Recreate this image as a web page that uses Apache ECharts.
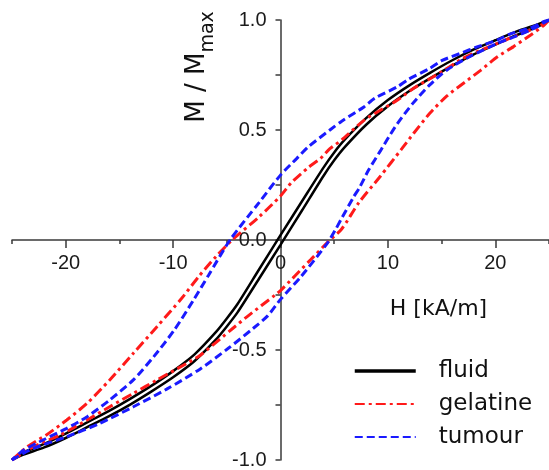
<!DOCTYPE html>
<html>
<head>
<meta charset="utf-8">
<script src="https://cdn.jsdelivr.net/npm/echarts@6/dist/echarts.min.js"></script>
<style>
html,body{margin:0;padding:0;background:#fff;}
#chart{width:549px;height:470px;}
</style>
</head>
<body>
<div id="chart"></div>
<script>
// ---- data (H in kA/m, M / Mmax) ----
const seriesNames = ['fluid', 'gelatine', 'tumour'];
const xLabelValues = [-20, -10, 0, 10, 20];

const fluidDown = [[25,1.0],[24,0.981],[22,0.948],[20,0.908],[18,0.866],[16,0.817],[14,0.762],[12,0.703],[10,0.636],[8,0.555],[6,0.457],[5,0.398],[4,0.329],[2,0.176],[0,0.022],[-2,-0.134],[-4,-0.291],[-5,-0.357],[-6,-0.418],[-8,-0.52],[-10,-0.596],[-12,-0.662],[-14,-0.722],[-16,-0.778],[-18,-0.829],[-20,-0.88],[-22,-0.927],[-24,-0.967],[-25,-1.0]];
const fluidUp = [[-25,-1.0],[-24,-0.977],[-22,-0.943],[-20,-0.9],[-18,-0.851],[-16,-0.802],[-14,-0.748],[-12,-0.688],[-10,-0.624],[-8,-0.55],[-6,-0.452],[-5,-0.393],[-4,-0.329],[-2,-0.176],[0,-0.022],[2,0.134],[4,0.291],[5,0.362],[6,0.423],[8,0.525],[10,0.608],[12,0.677],[14,0.737],[16,0.793],[18,0.844],[20,0.888],[22,0.932],[24,0.971],[25,1.0]];

const gelatineDown = [[25,1.0],[24.5,0.983],[23.3,0.955],[21.7,0.924],[20.2,0.894],[18.6,0.862],[17,0.826],[15.5,0.78],[14,0.735],[12.4,0.69],[10.9,0.636],[9.3,0.59],[7.8,0.545],[5.7,0.455],[4.6,0.415],[3.7,0.37],[2.6,0.33],[1,0.26],[0,0.2],[-2,0.105],[-4.5,0],[-6,-0.075],[-7.6,-0.165],[-9.2,-0.265],[-11.5,-0.394],[-13.7,-0.515],[-15.9,-0.636],[-18,-0.742],[-19.9,-0.818],[-21.8,-0.886],[-23.6,-0.94],[-25,-1.0]];
const gelatineUp = [[-25,-1.0],[-23,-0.94],[-20.5,-0.886],[-18,-0.818],[-15.9,-0.758],[-13.7,-0.697],[-11.5,-0.636],[-8.7,-0.56],[-7.5,-0.525],[-4.4,-0.4],[-3.1,-0.348],[-0.5,-0.25],[0,-0.23],[2.8,-0.09],[4.5,-0.005],[5.7,0.05],[7.3,0.17],[9.3,0.29],[11.3,0.415],[12.4,0.485],[13.9,0.576],[15.5,0.655],[17.1,0.715],[18.6,0.77],[20.2,0.833],[21.7,0.879],[23.3,0.932],[24.5,0.975],[25,1.0]];

const tumourDown = [[25,1.0],[24.4,0.99],[23.3,0.965],[21.3,0.935],[20.2,0.909],[18.1,0.874],[17,0.853],[15,0.815],[13.9,0.78],[11.9,0.73],[10.9,0.697],[8.8,0.645],[7.8,0.606],[5.7,0.54],[4.6,0.5],[2.6,0.424],[1.5,0.37],[0,0.295],[-2,0.17],[-4.7,0],[-6.7,-0.16],[-8.1,-0.273],[-9.9,-0.41],[-11.8,-0.53],[-13.7,-0.636],[-15.9,-0.727],[-18,-0.803],[-19.9,-0.856],[-22.1,-0.909],[-23.9,-0.955],[-25,-1.0]];
const tumourUp = [[-25,-1.0],[-24.5,-0.985],[-23,-0.947],[-19.9,-0.894],[-16.8,-0.833],[-13.7,-0.758],[-10.6,-0.678],[-7.5,-0.587],[-4.8,-0.49],[-2.5,-0.4],[-1.2,-0.345],[0,-0.27],[1.9,-0.167],[4.35,-0.015],[5.1,0.045],[5.6,0.09],[6.8,0.195],[7.4,0.242],[8.2,0.318],[9.3,0.405],[10.1,0.47],[10.9,0.53],[12.3,0.62],[13.9,0.705],[15.5,0.773],[17.6,0.833],[20.2,0.894],[21.3,0.915],[23.3,0.955],[25,1.0]];

// ---- chart ----
const chart = echarts.init(document.getElementById('chart'), null, {renderer: 'canvas'});
const axisColor = '#3a3a3a';
const labelFont = {fontFamily: '"Liberation Sans", Arial, sans-serif', fontSize: 20, color: '#1a1a1a'};

function lineSeries(name, data, color, type, width) {
  return {
    name: name, type: 'line', data: data, symbol: 'none', smooth: 0.25, clip: false,
    lineStyle: {color: color, width: width, type: type},
    itemStyle: {color: color},
    emphasis: {disabled: true}
  };
}

const option = {
  animation: false,
  backgroundColor: '#fff',
  grid: {left: 12, right: 0, top: 20, bottom: 10, containLabel: false, outerBoundsMode: 'none'},
  xAxis: {
    type: 'value', min: -25, max: 25, interval: 10, position: 'bottom', offset: -220,
    axisLine: {onZero: false, lineStyle: {color: axisColor, width: 1.5}},
    axisTick: {show: true, inside: false, length: 4, lineStyle: {color: axisColor, width: 1.5}},
    minorTick: {show: true, splitNumber: 2, length: 8, lineStyle: {color: axisColor, width: 1.5}},
    axisLabel: Object.assign({customValues: xLabelValues, margin: 13, formatter: v => String(v)}, labelFont),
    splitLine: {show: false}, minorSplitLine: {show: false}
  },
  yAxis: {
    type: 'value', min: -1, max: 1, interval: 0.5, position: 'left', offset: -268.5,
    axisLine: {onZero: false, lineStyle: {color: axisColor, width: 1.5}},
    axisTick: {show: true, inside: false, length: 5, lineStyle: {color: axisColor, width: 1.5}},
    minorTick: {show: true, splitNumber: 2, length: 5, lineStyle: {color: axisColor, width: 1.5}},
    axisLabel: Object.assign({margin: 14, formatter: v => v.toFixed(1)}, labelFont),
    splitLine: {show: false}, minorSplitLine: {show: false}
  },
  legend: {
    orient: 'vertical', left: 353, top: 359, padding: 0,
    itemWidth: 61, itemHeight: 14, itemGap: 9,
    selectedMode: false,
    itemStyle: {color: 'rgba(0,0,0,0)', borderColor: 'rgba(0,0,0,0)', borderWidth: 0},
    textStyle: {fontFamily: '"DejaVu Sans", sans-serif', fontSize: 23, color: '#111', lineHeight: 24, padding: [0, 0, 0, 18]},
    data: [
      {name: seriesNames[0], lineStyle: {width: 3.5}},
      {name: seriesNames[1]},
      {name: seriesNames[2]}
    ]
  },
  graphic: [
    {
      type: 'text', x: 438.5, y: 309,
      style: {text: 'H [kA/m]', fontFamily: '"DejaVu Sans", sans-serif', fontSize: 22, fill: '#111', align: 'center', verticalAlign: 'middle'}
    },
    {
      type: 'text', x: 205, y: 67, rotation: Math.PI / 2,
      style: {
        text: '{a|M / M}{b|max}', fill: '#111', align: 'center', verticalAlign: 'middle',
        rich: {
          a: {fontFamily: '"DejaVu Sans", sans-serif', fontSize: 26, lineHeight: 26, padding: [0, 0, 8, 0], verticalAlign: 'bottom', fill: '#111'},
          b: {fontFamily: '"DejaVu Sans", sans-serif', fontSize: 19, lineHeight: 19, verticalAlign: 'bottom', fill: '#111'}
        }
      }
    }
  ],
  series: [
    lineSeries(seriesNames[0], fluidDown, '#000000', 'solid', 2.5),
    lineSeries(seriesNames[0], fluidUp, '#000000', 'solid', 2.5),
    lineSeries(seriesNames[1], gelatineDown, '#ff1a1a', [10, 4, 3, 4], 3),
    lineSeries(seriesNames[1], gelatineUp, '#ff1a1a', [10, 4, 3, 4], 3),
    lineSeries(seriesNames[2], tumourDown, '#1a1aff', [8, 4], 3),
    lineSeries(seriesNames[2], tumourUp, '#1a1aff', [8, 4], 3)
  ]
};
chart.setOption(option);
</script>
</body>
</html>
